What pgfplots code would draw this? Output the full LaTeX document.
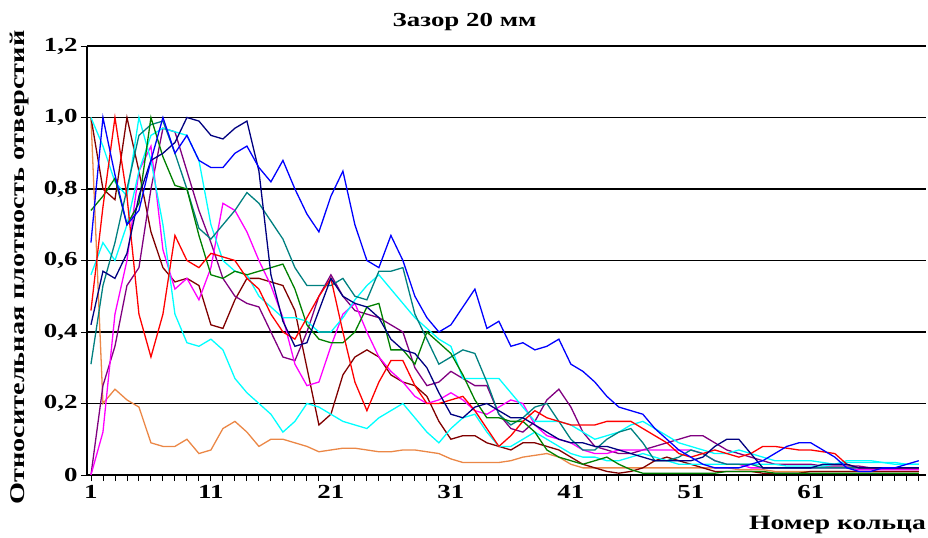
\documentclass[border=0pt]{standalone}
\usepackage{fontspec}
\setmainfont{Liberation Serif}[FakeStretch=1.35]
\usepackage{pgfplots}
\pgfplotsset{compat=1.18}
\usepackage{pgfplotstable}
\definecolor{cblue}{RGB}{0,0,255}
\definecolor{cnavy}{RGB}{0,0,128}
\definecolor{cred}{RGB}{255,0,0}
\definecolor{cdred}{RGB}{128,0,0}
\definecolor{cgreen}{RGB}{0,128,0}
\definecolor{cteal}{RGB}{0,128,128}
\definecolor{ccyan}{RGB}{0,255,255}
\definecolor{cmag}{RGB}{255,0,255}
\definecolor{cpur}{RGB}{128,0,128}
\definecolor{corg}{RGB}{235,135,70}
\pgfplotstableread{
n  bl   nv   rd   dr   gr   tl   ca   cb   mg   pu   or
1  0.65 0.42 0.46 1.00 0.74 0.31 1.00 0.56 0.00 0.00 1.00
2  1.00 0.57 0.75 0.80 0.78 0.53 0.92 0.65 0.12 0.25 0.20
3  0.84 0.55 1.00 0.77 0.83 0.65 0.82 0.60 0.45 0.36 0.24
4  0.70 0.62 0.78 1.00 0.70 0.80 0.78 0.70 0.60 0.53 0.21
5  0.74 0.78 0.45 0.85 0.76 0.95 1.00 0.85 0.85 0.58 0.19
6  0.88 0.88 0.33 0.68 1.00 0.98 0.88 0.95 0.92 0.80 0.09
7  1.00 0.90 0.45 0.58 0.89 0.99 0.70 0.97 0.63 0.97 0.08
8  0.90 0.93 0.67 0.54 0.81 0.90 0.45 0.96 0.52 0.96 0.08
9  0.95 1.00 0.60 0.55 0.80 0.80 0.37 0.95 0.55 0.85 0.10
10 0.88 0.99 0.58 0.53 0.67 0.69 0.36 0.88 0.49 0.74 0.06
11 0.86 0.95 0.62 0.42 0.56 0.66 0.38 0.70 0.58 0.65 0.07
12 0.86 0.94 0.61 0.41 0.55 0.70 0.35 0.60 0.76 0.55 0.13
13 0.90 0.97 0.60 0.49 0.57 0.74 0.27 0.57 0.74 0.50 0.15
14 0.92 0.99 0.55 0.55 0.56 0.79 0.23 0.56 0.68 0.48 0.12
15 0.86 0.85 0.52 0.55 0.57 0.76 0.20 0.50 0.60 0.47 0.08
16 0.82 0.56 0.45 0.54 0.58 0.71 0.17 0.47 0.53 0.40 0.10
17 0.88 0.43 0.40 0.53 0.59 0.66 0.12 0.44 0.44 0.33 0.10
18 0.80 0.36 0.38 0.46 0.52 0.58 0.15 0.44 0.31 0.32 0.09
19 0.73 0.37 0.44 0.30 0.42 0.53 0.20 0.43 0.25 0.40 0.08
20 0.68 0.46 0.50 0.14 0.38 0.53 0.19 0.40 0.26 0.50 0.065
21 0.78 0.55 0.55 0.17 0.37 0.53 0.17 0.40 0.36 0.56 0.07
22 0.85 0.50 0.40 0.28 0.37 0.55 0.15 0.44 0.45 0.50 0.075
23 0.70 0.48 0.26 0.33 0.40 0.50 0.14 0.49 0.48 0.46 0.075
24 0.60 0.47 0.18 0.35 0.47 0.49 0.13 0.53 0.40 0.45 0.07
25 0.58 0.44 0.26 0.33 0.48 0.57 0.16 0.56 0.33 0.44 0.065
26 0.67 0.38 0.32 0.28 0.35 0.57 0.18 0.52 0.29 0.42 0.065
27 0.60 0.35 0.32 0.26 0.35 0.58 0.20 0.48 0.26 0.40 0.07
28 0.50 0.34 0.25 0.25 0.31 0.45 0.16 0.44 0.22 0.30 0.07
29 0.44 0.30 0.20 0.22 0.40 0.38 0.12 0.41 0.20 0.25 0.065
30 0.40 0.23 0.20 0.15 0.37 0.31 0.09 0.38 0.21 0.26 0.06
31 0.42 0.17 0.21 0.10 0.34 0.33 0.13 0.36 0.23 0.29 0.045
32 0.47 0.16 0.22 0.11 0.28 0.35 0.16 0.27 0.21 0.27 0.035
33 0.52 0.19 0.18 0.11 0.21 0.34 0.17 0.27 0.18 0.25 0.035
34 0.41 0.20 0.13 0.09 0.16 0.26 0.12 0.27 0.17 0.25 0.035
35 0.43 0.18 0.08 0.08 0.16 0.17 0.08 0.27 0.19 0.17 0.035
36 0.36 0.16 0.11 0.07 0.15 0.14 0.08 0.23 0.21 0.13 0.04
37 0.37 0.16 0.15 0.09 0.15 0.16 0.10 0.19 0.20 0.12 0.05
38 0.35 0.14 0.18 0.09 0.12 0.19 0.12 0.15 0.14 0.15 0.055
39 0.36 0.12 0.16 0.08 0.07 0.20 0.10 0.15 0.11 0.21 0.06
40 0.38 0.10 0.15 0.07 0.05 0.15 0.08 0.15 0.10 0.24 0.05
41 0.31 0.09 0.14 0.05 0.04 0.10 0.06 0.14 0.09 0.19 0.03
42 0.29 0.09 0.14 0.03 0.03 0.07 0.05 0.12 0.07 0.12 0.02
43 0.26 0.08 0.14 0.02 0.04 0.07 0.05 0.10 0.06 0.08 0.02
44 0.22 0.08 0.15 0.01 0.05 0.10 0.04 0.11 0.06 0.07 0.02
45 0.19 0.07 0.15 0.005 0.03 0.12 0.04 0.12 0.07 0.06 0.02
46 0.18 0.06 0.15 0.01 0.015 0.13 0.05 0.14 0.07 0.06 0.02
47 0.17 0.05 0.13 0.02 0.005 0.09 0.06 0.15 0.07 0.07 0.02
48 0.13 0.04 0.11 0.04 0.005 0.04 0.05 0.13 0.07 0.08 0.02
49 0.10 0.04 0.09 0.05 0.005 0.04 0.04 0.11 0.07 0.09 0.02
50 0.07 0.04 0.06 0.04 0.005 0.05 0.03 0.09 0.07 0.10 0.02
51 0.05 0.04 0.05 0.03 0.005 0.07 0.03 0.08 0.07 0.11 0.02
52 0.03 0.05 0.06 0.02 0.005 0.06 0.03 0.07 0.06 0.11 0.02
53 0.02 0.08 0.07 0.01 0.005 0.04 0.03 0.06 0.04 0.09 0.02
54 0.02 0.10 0.06 0.01 0.01 0.03 0.03 0.06 0.03 0.07 0.02
55 0.02 0.10 0.05 0.01 0.01 0.03 0.03 0.07 0.03 0.06 0.015
56 0.03 0.06 0.06 0.01 0.01 0.03 0.03 0.06 0.02 0.05 0.015
57 0.04 0.02 0.08 0.005 0.01 0.02 0.03 0.05 0.02 0.04 0.015
58 0.06 0.02 0.08 0.005 0.005 0.02 0.03 0.04 0.02 0.03 0.01
59 0.08 0.02 0.075 0.005 0.005 0.02 0.025 0.04 0.02 0.03 0.01
60 0.09 0.02 0.07 0.005 0.005 0.02 0.025 0.04 0.02 0.03 0.01
61 0.09 0.02 0.07 0.01 0.005 0.02 0.025 0.04 0.02 0.03 0.01
62 0.07 0.03 0.065 0.01 0.005 0.02 0.025 0.035 0.02 0.025 0.01
63 0.05 0.03 0.06 0.01 0.005 0.02 0.03 0.03 0.02 0.025 0.01
64 0.02 0.03 0.03 0.01 0.005 0.02 0.035 0.04 0.02 0.025 0.01
65 0.01 0.02 0.02 0.01 0.005 0.02 0.035 0.04 0.015 0.025 0.01
66 0.01 0.02 0.02 0.01 0.005 0.02 0.035 0.04 0.015 0.02 0.01
67 0.02 0.02 0.02 0.01 0.005 0.02 0.035 0.035 0.015 0.02 0.01
68 0.02 0.02 0.02 0.01 0.005 0.02 0.035 0.03 0.015 0.02 0.01
69 0.03 0.02 0.02 0.01 0.005 0.02 0.03 0.03 0.015 0.02 0.01
70 0.04 0.02 0.02 0.01 0.005 0.02 0.03 0.03 0.015 0.02 0.01
}\data
\begin{document}
\begin{tikzpicture}
\path[use as bounding box] (-87bp,-63bp) rectangle (841bp,475bp);
\begin{axis}[
  at={(0,0)}, anchor=south west,
  scale only axis, width=839bp, height=429bp,
  xmin=0.67, xmax=70.6, ymin=0, ymax=1.2,
  axis x line=bottom, axis y line=left,
  axis line style={-, line width=1.8bp, black},
  xtick={1,11,21,31,41,51,61},
  xticklabels={1,11,21,31,41,51,61},
  minor xtick={1,...,70},
  ytick={0,0.2,0.4,0.6,0.8,1.0,1.2},
  yticklabels={0,{0,2},{0,4},{0,6},{0,8},{1,0},{1,2}},
  ymajorgrids,
  major grid style={line width=1.6bp, black},
  tick align=outside,
  major tick length=6bp, minor tick length=6bp,
  tick style={black, line width=0.9bp},
  tick label style={font=\bfseries\fontsize{20}{20}\selectfont},
  xticklabel style={yshift=-1bp},
  ylabel={Относительная плотность отверстий},
  ylabel style={at={(rel axis cs:0,0.5)}, anchor=center, yshift=67bp, xshift=-7bp,
    font=\bfseries\fontsize{21}{21}\selectfont},
  xlabel={Номер кольца},
  xlabel style={at={(rel axis cs:1,0)}, anchor=east, inner sep=0pt, yshift=-50bp,
    font=\bfseries\fontsize{20.5}{20.5}\selectfont},
  title={Зазор 20 мм},
  title style={at={(rel axis cs:0.45,1)}, anchor=center, yshift=18bp,
    font=\bfseries\fontsize{20}{20}\selectfont},
  every axis plot/.append style={line width=1.3bp, mark=none},
]
\addplot[corg] table[x=n,y=or]{\data};
\addplot[cdred] table[x=n,y=dr]{\data};
\addplot[cpur] table[x=n,y=pu]{\data};
\addplot[cmag] table[x=n,y=mg]{\data};
\addplot[ccyan] table[x=n,y=ca]{\data};
\addplot[ccyan] table[x=n,y=cb]{\data};
\addplot[cteal] table[x=n,y=tl]{\data};
\addplot[cgreen] table[x=n,y=gr]{\data};
\addplot[cred] table[x=n,y=rd]{\data};
\addplot[cnavy] table[x=n,y=nv]{\data};
\addplot[cblue] table[x=n,y=bl]{\data};
\end{axis}
\end{tikzpicture}
\end{document}
